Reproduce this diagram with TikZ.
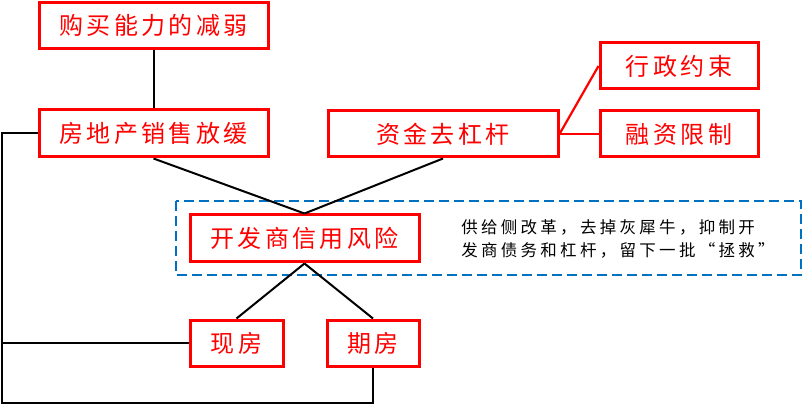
\documentclass[tikz,border=0pt]{standalone}
\usepackage{fontspec}
\newfontfamily\cjk[LetterSpace=14]{Noto Sans CJK SC}
\newfontfamily\cjknote[LetterSpace=20]{Noto Sans CJK SC}
\definecolor{boxred}{HTML}{FF0000}
\definecolor{dashblue}{HTML}{0070C0}
\tikzset{
  redbox/.style={draw=boxred, line width=3pt, text=boxred, inner sep=0pt,
    minimum height=46pt, font=\cjk\fontsize{24}{24}\selectfont},
  link/.style={draw=black, line width=2pt},
  redlink/.style={draw=boxred, line width=2.2pt},
  dashframe/.style={draw=dashblue, line width=2.6pt, dash pattern=on 10pt off 5pt},
  note/.style={align=left, inner sep=0pt, text=black, font=\cjknote\fontsize{16.5}{23}\selectfont}
}
\begin{document}
\begin{tikzpicture}[x=1pt,y=-1pt]
\useasboundingbox (0,0) rectangle (806,406);
\draw[dashframe] (176,201) rectangle (801,275);
\node[redbox, minimum width=229pt] (buy) at (153.5,25.5) {购买能力的减弱};
\node[redbox, minimum width=229pt, minimum height=47pt] (sales) at (153.5,133.5) {房地产销售放缓};
\node[redbox, minimum width=230pt] (fund) at (443,134) {资金去杠杆};
\node[redbox, minimum width=158pt] (admin) at (679,66) {行政约束};
\node[redbox, minimum width=158pt] (fin) at (679,134) {融资限制};
\node[redbox, minimum width=229pt, minimum height=47pt] (dev) at (304.5,238.5) {开发商信用风险};
\node[redbox, minimum width=93pt] (spot) at (236.5,343) {现房};
\node[redbox, minimum width=92pt] (future) at (373,343) {期房};
\node[note] (txt) at (618,238.5) {供给侧改革，去掉灰犀牛，抑制开\\发商债务和杠杆，留下一批“拯救”};
\coordinate (c1) at (2,133.5);
\coordinate (c2) at (2,403);
\draw[link] (buy.south) -- (sales.north);
\draw[link] (sales.south) -- (dev.north);
\draw[link] (fund.south) -- (dev.north);
\draw[link] (dev.south) -- (spot.north);
\draw[link] (dev.south) -- (future.north);
\draw[redlink] (fund.east) -- (admin.west);
\draw[redlink] (fund.east) -- (fin.west);
\draw[link] (sales.west) -- (c1) -- (c2) -| (future.south);
\draw[link] (spot.west) -- (spot.west -| c1);
\end{tikzpicture}
\end{document}
